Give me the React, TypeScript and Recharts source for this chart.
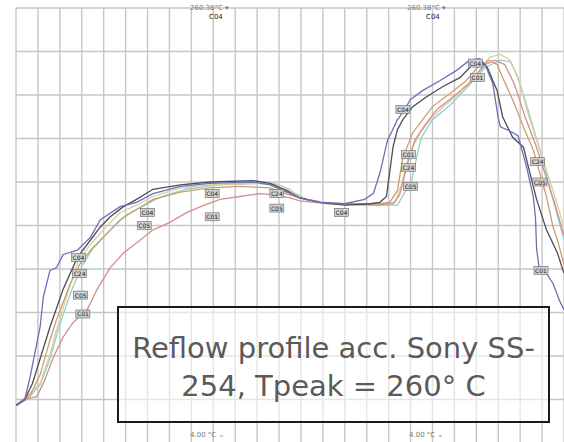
import { LineChart, Line, XAxis, YAxis, ReferenceLine, ReferenceDot } from "recharts";

// time (s) / temperature (°C) pairs, one list per probe
const c01Blue: [number, number][] = [
  [0, 26], [1, 26], [8, 30], [13, 46], [22, 80], [25, 101], [31, 119], [37, 121],
  [43, 130], [56, 133], [68, 142], [77, 154], [95, 163], [110, 166], [125, 172],
  [150, 177], [177, 179], [216, 180], [232, 178], [247, 173], [259, 169], [277, 166],
  [300, 165], [318, 168], [326, 172], [332, 186], [339, 209], [343, 215], [348, 223],
  [353, 228], [360, 237], [371, 243], [387, 250], [402, 257], [414, 264], [423, 265],
  [428, 261], [435, 248], [440, 224], [442, 218], [451, 215], [458, 212], [466, 190],
  [472, 170], [474, 155], [475, 134], [478, 117], [484, 117], [490, 110], [496, 98], [500, 92],
];

const c04Dark: [number, number][] = [
  [0, 26], [8, 30], [15, 41], [31, 80], [43, 106], [56, 128], [68, 140], [77, 149],
  [86, 156], [98, 163], [110, 168], [125, 175], [150, 178], [177, 180], [216, 181],
  [232, 179], [247, 174], [259, 169], [277, 166], [300, 164], [323, 165], [332, 166],
  [338, 170], [344, 204], [348, 216], [353, 223], [362, 232], [375, 239], [390, 246],
  [405, 252], [414, 259], [423, 264], [430, 259], [439, 243], [444, 225], [453, 211],
  [463, 204], [469, 186], [475, 168], [484, 147], [494, 131], [500, 117],
];

const c24Orange: [number, number][] = [
  [0, 26], [13, 33], [22, 47], [31, 71], [37, 85], [49, 109], [58, 123], [68, 133],
  [81, 143], [95, 154], [110, 161], [125, 168], [150, 173], [177, 176], [204, 177],
  [232, 176], [250, 171], [259, 169], [277, 166], [300, 165], [332, 165], [341, 166],
  [348, 174], [353, 197], [362, 214], [371, 223], [380, 232], [396, 241], [411, 250],
  [421, 259], [432, 264], [439, 261], [444, 252], [453, 237], [463, 218], [472, 202],
  [478, 186], [484, 170], [490, 149], [494, 140], [500, 123],
];

const c05Tan: [number, number][] = [
  [0, 26], [8, 31], [22, 41], [31, 61], [37, 78], [49, 108], [57, 126], [68, 137],
  [81, 148], [95, 159], [110, 164], [125, 170], [150, 176], [177, 178], [216, 179],
  [236, 179], [250, 175], [259, 169], [286, 165], [323, 164], [346, 166], [352, 179],
  [359, 200], [369, 214], [378, 223], [390, 232], [408, 243], [423, 257], [432, 266],
  [442, 268], [451, 264], [460, 248], [466, 230], [475, 209], [481, 195], [490, 174],
  [496, 159], [500, 148],
];

const c02Teal: [number, number][] = [
  [0, 26], [10, 30], [22, 40], [31, 58], [40, 82], [50, 104], [60, 122], [70, 134],
  [85, 146], [100, 157], [115, 163], [130, 169], [155, 175], [185, 178], [220, 179],
  [240, 178], [255, 172], [265, 168], [290, 165], [330, 164], [348, 164], [361, 181],
  [367, 202], [370, 211], [380, 223], [396, 233], [414, 247], [428, 259], [442, 264],
  [451, 263], [457, 254], [466, 233], [478, 202], [490, 168], [500, 140],
];

const c01Pink: [number, number][] = [
  [0, 26], [6, 30], [19, 32], [26, 43], [34, 59], [43, 73], [52, 83], [65, 92],
  [74, 106], [86, 121], [98, 131], [110, 138], [125, 147], [140, 152], [156, 159],
  [172, 164], [186, 168], [204, 170], [223, 172], [238, 171], [250, 169], [259, 167],
  [286, 165], [328, 164], [344, 165], [350, 171], [357, 192], [364, 209], [373, 219],
  [384, 230], [401, 240], [416, 250], [428, 261], [437, 264], [446, 261], [455, 247],
  [464, 226], [474, 206], [483, 185], [492, 164], [500, 143],
];

// small probe tags printed along the curves
const tagNames = [
  "C04", "C24", "C05", "C01", "C04", "C05", "C04", "C01", "C24", "C05", "C04",
  "C04", "C01", "C24", "C05", "C04", "C01", "C24", "C05", "C01",
];
const tagTimes = [
  57, 58, 59, 61, 120, 117, 179, 179, 238, 238, 297,
  353, 358, 358, 360, 419, 421, 476, 478, 479,
];
const tagTemps = [
  128, 117, 102, 89, 159, 150, 172, 156, 172, 162, 159,
  230, 199, 190, 177, 262, 252, 194, 180, 119,
];

const timeTicks = [
  0, 20, 40, 60, 80, 100, 120, 140, 160, 180, 200, 220, 240, 260, 280, 300, 320,
  340, 360, 380, 400, 420, 440, 460, 480, 500,
];
const tempTicks = [0, 30, 60, 90, 120, 150, 180, 210, 240, 270, 300];

const toPoints = (pairs: [number, number][]) => pairs.map(([t, temp]) => ({ t, temp }));

const SERIES = [
  { name: "C02", pairs: c02Teal, color: "#90cfd1" },
  { name: "C05", pairs: c05Tan, color: "#d8cf9a" },
  { name: "C01p", pairs: c01Pink, color: "#d48f8f" },
  { name: "C24", pairs: c24Orange, color: "#cf9d6c" },
  { name: "C04", pairs: c04Dark, color: "#4c4c58" },
  { name: "C01", pairs: c01Blue, color: "#6e6eb8" },
];

const GRID = "#c6c6c6";

const tagShape = (name: string) => (props: any) => {
  const { cx, cy } = props;
  return (
    <g>
      <rect x={cx - 7} y={cy - 4} width={14} height={8} fill="#d0d0d0" stroke="#666" strokeWidth={0.6} />
      <text x={cx} y={cy + 2.5} textAnchor="middle" fontSize={6} fill="#222" fontFamily="DejaVu Sans">
        {name}
      </text>
    </g>
  );
};

const small = {
  position: "absolute" as const,
  fontFamily: "DejaVu Sans",
  fontSize: 7,
  color: "#777",
  whiteSpace: "nowrap" as const,
};

export default function App() {
  return (
    <div
      style={{
        position: "absolute",
        left: 0,
        top: 0,
        width: 564,
        height: 442,
        overflow: "hidden",
        background: "#fff",
      }}
    >
      <LineChart width={564} height={443} margin={{ top: 8, right: 0, bottom: 0, left: 16 }}>
        <XAxis
          dataKey="t"
          type="number"
          domain={[0, 500]}
          ticks={timeTicks}
          allowDataOverflow
          hide
        />
        <YAxis
          type="number"
          domain={[0, 300]}
          ticks={tempTicks}
          allowDataOverflow
          hide
        />
        {/* grid drawn as reference lines at every tick */}
        {timeTicks.map((t) => (
          <ReferenceLine key={"v" + t} x={t} stroke={GRID} strokeWidth={1.4} ifOverflow="visible" />
        ))}
        {tempTicks.map((v) => (
          <ReferenceLine key={"h" + v} y={v} stroke={GRID} strokeWidth={1.4} ifOverflow="visible" />
        ))}
        {SERIES.map((s) => (
          <Line
            key={s.name}
            data={toPoints(s.pairs)}
            dataKey="temp"
            type="linear"
            stroke={s.color}
            strokeWidth={1.3}
            dot={false}
            isAnimationActive={false}
          />
        ))}
        {tagNames.map((name, i) => (
          <ReferenceDot
            key={i}
            x={tagTimes[i]}
            y={tagTemps[i]}
            r={0}
            ifOverflow="visible"
            shape={tagShape(name)}
          />
        ))}
      </LineChart>

      <div style={{ ...small, left: 190, top: 4 }}>260.38°C ▾</div>
      <div style={{ ...small, left: 209, top: 13, color: "#222" }}>C04</div>
      <div style={{ ...small, left: 407, top: 4 }}>260.38°C ▾</div>
      <div style={{ ...small, left: 426, top: 13, color: "#222" }}>C04</div>
      <div style={{ ...small, left: 190, top: 431 }}>4.00 °C ⌄</div>
      <div style={{ ...small, left: 409, top: 431 }}>4.00 °C ⌄</div>

      <div
        style={{
          position: "absolute",
          left: 117,
          top: 306,
          width: 433,
          height: 117,
          boxSizing: "border-box",
          border: "2px solid #1a1a1a",
          background: "rgba(255,255,255,0.55)",
        }}
      />
      <div
        style={{
          position: "absolute",
          left: 117,
          top: 329,
          width: 433,
          textAlign: "center",
          fontFamily: "DejaVu Sans",
          fontSize: 29,
          lineHeight: "38px",
          color: "#5a5a5a",
        }}
      >
        Reflow profile acc. Sony SS-
        <br />
        254, Tpeak = 260° C
      </div>
    </div>
  );
}
